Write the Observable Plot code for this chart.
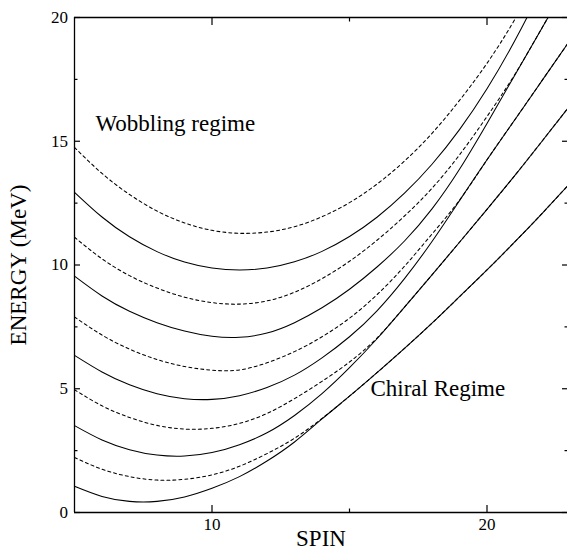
<!DOCTYPE html>
<html>
<head>
<meta charset="utf-8">
<script src="https://cdn.jsdelivr.net/npm/d3@7"></script>
<script src="https://cdn.jsdelivr.net/npm/@observablehq/plot@0.6"></script>
<style>
html, body { margin: 0; padding: 0; background: #fff; overflow: hidden; }
svg text { font-family: 'Liberation Serif', 'Times New Roman', Times, serif !important; }
</style>
</head>
<body>
<div id="chart"></div>
<script>
// Spin grid
const spin = [5, 6, 7, 8, 9, 10, 11, 12, 13, 14, 15, 16, 17, 18, 19, 20, 21, 22, 23];

// Solid bands (energies in MeV)
const solid1 = [1.06, 0.65, 0.45, 0.45, 0.63, 0.98, 1.45, 2.08, 2.85, 3.78, 4.7, 5.65, 6.63, 7.65, 8.72, 9.8, 10.92, 12.08, 13.28];
const solid2 = [3.51, 2.93, 2.54, 2.32, 2.28, 2.42, 2.74, 3.22, 3.92, 4.8, 5.85, 7.02, 8.3, 9.6, 10.92, 12.25, 13.6, 15.0, 16.42];
const solid3 = [6.35, 5.68, 5.16, 4.8, 4.6, 4.57, 4.72, 5.05, 5.55, 6.25, 7.1, 8.15, 9.45, 10.95, 12.6, 14.25, 15.85, 17.45, 19.05];
const solid4 = [9.55, 8.75, 8.13, 7.67, 7.33, 7.12, 7.08, 7.25, 7.67, 8.27, 9.02, 9.92, 10.97, 12.27, 13.87, 15.72, 17.65, 19.58, 21.5];
const solid5 = [12.94, 11.94, 11.14, 10.54, 10.12, 9.88, 9.8, 9.88, 10.13, 10.55, 11.15, 11.93, 12.9, 14.07, 15.47, 17.12, 19.04, 21.24, 23.74];

// Dashed (partner) bands
const dashed1 = [2.22, 1.75, 1.45, 1.31, 1.34, 1.52, 1.87, 2.38, 3.0, 3.8, 4.7, 5.65, 6.63, 7.65, 8.72, 9.8, 10.92, 12.08, 13.28];
const dashed2 = [4.96, 4.31, 3.84, 3.52, 3.37, 3.4, 3.6, 4.0, 4.6, 5.3, 6.08, 7.05, 8.3, 9.6, 10.92, 12.25, 13.6, 15.0, 16.42];
const dashed3 = [7.9, 7.17, 6.6, 6.18, 5.9, 5.75, 5.76, 6.05, 6.5, 7.1, 7.85, 8.8, 9.95, 11.25, 12.62, 14.25, 15.85, 17.45, 19.05];
const dashed4 = [11.12, 10.25, 9.57, 9.07, 8.7, 8.48, 8.42, 8.55, 8.9, 9.45, 10.15, 11.0, 11.98, 13.1, 14.45, 16.0, 17.68, 19.58, 21.5];
const dashed5 = [14.75, 13.7, 12.85, 12.18, 11.7, 11.4, 11.28, 11.33, 11.55, 11.95, 12.52, 13.27, 14.2, 15.32, 16.65, 18.15, 19.9, 21.95, 24.25];

// Ticks and labels
const yMajor = [0, 5, 10, 15, 20];
const yMinor = [2.5, 7.5, 12.5, 17.5];
const yTickLabels = ["0", "5", "10", "15", "20"];
const xMajor = [10, 20];
const xMinor = [15];
const xTickLabels = ["10", "20"];
const xTitle = "SPIN";
const yTitle = "ENERGY (MeV)";
const annotations = ["Wobbling regime", "Chiral Regime"];

const solidSeries = [solid1, solid2, solid3, solid4, solid5];
const dashedSeries = [dashed1, dashed2, dashed3, dashed4, dashed5];
const toRows = (series) => series.flatMap((vals, k) => vals.map((e, i) => ({spin: spin[i], energy: e, band: k})));

const font = "'Liberation Serif', 'Times New Roman', Times, serif";
const none = () => "";

const chart = Plot.plot({
  width: 567,
  height: 551,
  marginLeft: 74,
  marginRight: 0,
  marginTop: 17,
  marginBottom: 39,
  style: {fontFamily: font, background: "white", color: "black"},
  x: {domain: [5, 23], range: [74, 569]},
  y: {domain: [0, 20]},
  marks: [
    Plot.line(toRows(solidSeries), {x: "spin", y: "energy", z: "band", stroke: "black", strokeWidth: 1.05, curve: "natural", clip: true}),
    Plot.line(toRows(dashedSeries), {x: "spin", y: "energy", z: "band", stroke: "black", strokeWidth: 1.05, strokeDasharray: "3,3", curve: "natural", clip: true}),
    Plot.ruleX([5], {stroke: "black", strokeWidth: 1.3}),
    Plot.ruleY([0, 20], {stroke: "black", strokeWidth: 1.3}),
    // left axis
    Plot.axisY({anchor: "left", ticks: yMajor, tickSize: -6, tickPadding: 12.5, strokeWidth: 1.2, fontSize: 17, fontFamily: font, label: null,
      tickFormat: (d) => yTickLabels[yMajor.indexOf(d)]}),
    Plot.axisY({anchor: "left", ticks: yMinor, tickSize: -3.5, strokeWidth: 1.2, label: null, tickFormat: none}),
    // right axis
    Plot.axisY({anchor: "right", ticks: yMajor, tickSize: -6, strokeWidth: 1.2, label: null, tickFormat: none}),
    Plot.axisY({anchor: "right", ticks: yMinor, tickSize: -3.5, strokeWidth: 1.2, label: null, tickFormat: none}),
    // bottom axis
    Plot.axisX({anchor: "bottom", ticks: xMajor, tickSize: -7, tickPadding: 12, strokeWidth: 1.2, fontSize: 17, fontFamily: font, label: null,
      tickFormat: (d) => xTickLabels[xMajor.indexOf(d)]}),
    Plot.axisX({anchor: "bottom", ticks: xMinor, tickSize: -3.5, strokeWidth: 1.2, label: null, tickFormat: none}),
    // top axis
    Plot.axisX({anchor: "top", ticks: xMajor, tickSize: -7, strokeWidth: 1.2, label: null, tickFormat: none}),
    Plot.axisX({anchor: "top", ticks: xMinor, tickSize: -3.5, strokeWidth: 1.2, label: null, tickFormat: none}),
    // axis titles
    Plot.text([xTitle], {frameAnchor: "bottom", textAnchor: "middle", lineAnchor: "middle", dy: 26.5, fontSize: 23, fontFamily: font, fill: "black"}),
    Plot.text([yTitle], {frameAnchor: "left", textAnchor: "middle", lineAnchor: "middle", dx: -56, rotate: -90, fontSize: 23, fontFamily: font, fill: "black"}),
    // annotations
    Plot.text(annotations, {x: [5.76, 15.76], y: [15.7, 5.0], text: (d) => d, textAnchor: "start", lineAnchor: "middle", fontSize: 23, fontFamily: font, fill: "black"})
  ]
});
document.getElementById("chart").appendChild(chart);
</script>
</body>
</html>
